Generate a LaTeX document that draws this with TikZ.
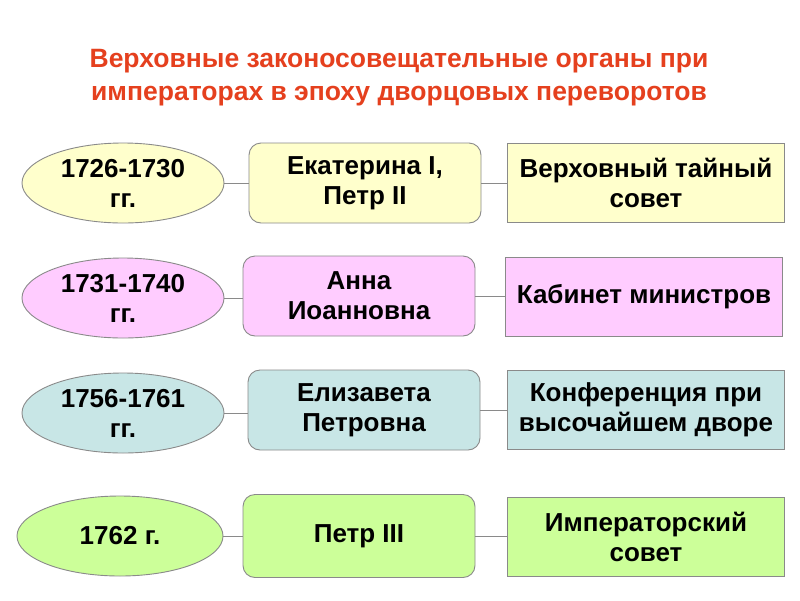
\documentclass[tikz,border=0pt]{standalone}
\usepackage{fontspec}
\setmainfont{Liberation Sans}
\usetikzlibrary{shapes.geometric}
\definecolor{ttl}{HTML}{E5401E}
\definecolor{edge}{HTML}{8A8A8A}
\definecolor{cA}{HTML}{FFFFCC}
\definecolor{cB}{HTML}{FFCCFF}
\definecolor{cC}{HTML}{C8E6E6}
\definecolor{cD}{HTML}{CCFF99}
\tikzset{
  base/.style={draw=edge, line width=0.9pt, align=center, font=\bfseries\fontsize{26}{30}\selectfont, inner sep=0pt},
  period/.style={base, ellipse, minimum width=202pt, minimum height=80pt},
  ruler/.style={base, rounded corners=12pt, minimum width=232pt, minimum height=80pt},
  organ/.style={base, minimum width=277pt, minimum height=79pt},
  link/.style={draw=edge, line width=0.9pt}
}
\begin{document}
\begin{tikzpicture}[x=1pt,y=-1pt]
\useasboundingbox[fill=white] (0,0) rectangle (800,600);
\node[text=ttl, font=\bfseries\fontsize{26.5}{33}\selectfont, align=center] (title) at (399,78)
  {Верховные законосовещательные органы при\\императорах в эпоху дворцовых переворотов};

\node[period, fill=cA] (p1) at (123,183) {1726-1730\\гг.};
\node[ruler, fill=cA] (r1) at (365,183) {Екатерина I,\\Петр II};
\node[organ, fill=cA] (o1) at (646,183) {Верховный тайный\\совет};

\node[period, fill=cB] (p2) at (123,298) {1731-1740\\гг.};
\node[ruler, fill=cB] (r2) at (359,296) {Анна\\Иоанновна};
\node[organ, fill=cB] (o2) at (644,297) {Кабинет министров};

\node[period, fill=cC] (p3) at (123,413) {1756-1761\\гг.};
\node[ruler, fill=cC] (r3) at (364,410) {Елизавета\\Петровна};
\node[organ, fill=cC] (o3) at (646,410) {Конференция при\\высочайшем дворе};

\node[period, fill=cD, minimum width=206pt] (p4) at (120,536) {1762 г.};
\node[ruler, fill=cD, minimum height=83pt] (r4) at (359,536) {Петр III};
\node[organ, fill=cD] (o4) at (646,537) {Императорский\\совет};

\foreach \i in {1,2,3,4}{
  \draw[link] (p\i.east) -- (p\i.east -| r\i.west);
  \draw[link] (r\i.east) -- (r\i.east -| o\i.west);
}
\end{tikzpicture}
\end{document}
